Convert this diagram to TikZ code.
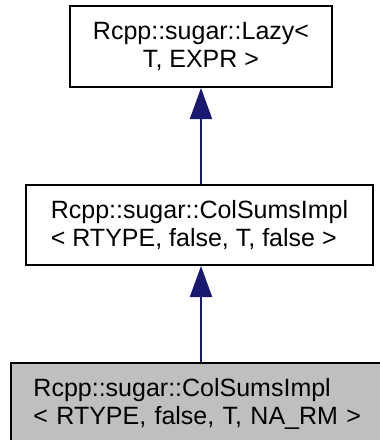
\documentclass[tikz,border=0pt]{standalone}
\usepackage{fontspec}
\setmainfont{Liberation Sans}
\usetikzlibrary{arrows.meta}
\definecolor{edgeblue}{HTML}{191970}
\definecolor{nodegray}{HTML}{BFBFBF}
\tikzset{
  classbox/.style={draw=black, line width=2pt, fill=white, inner sep=0pt,
    align=center, font=\fontsize{25}{28}\selectfont},
  current/.style={classbox, fill=nodegray, align=left, inner xsep=22.5pt,
    text width=345pt},
  inherit/.style={draw=edgeblue, line width=2pt,
    -{Triangle[width=22pt,length=31pt]}, fill=edgeblue}
}
\begin{document}
\begin{tikzpicture}[x=1pt,y=1pt]
\useasboundingbox (0,0) rectangle (380,-440);
\clip (0,0) rectangle (380,-440);
\fill[white] (0,0) rectangle (380,-440);
% base class
\node[classbox, minimum width=262pt, minimum height=81pt] (lazy) at (201,-46.5)
  {Rcpp::sugar::Lazy<\\T, EXPR >};
% intermediate specialisation
\node[classbox, align=left, minimum width=347pt, minimum height=80pt] (colsums) at (199.5,-225)
  {Rcpp::sugar::ColSumsImpl\\< RTYPE, false, T, false >};
% documented class, extending past the right edge
\node[current, anchor=west, minimum height=82pt] (narm) at (10,-404)
  {Rcpp::sugar::ColSumsImpl\\< RTYPE, false, T, NA\_RM >};
% inheritance edges
\draw[inherit] (colsums.north -| lazy.south) -- (lazy.south);
\draw[inherit] (narm.north -| lazy.south) -- (lazy.south |- colsums.south);
\end{tikzpicture}
\end{document}
